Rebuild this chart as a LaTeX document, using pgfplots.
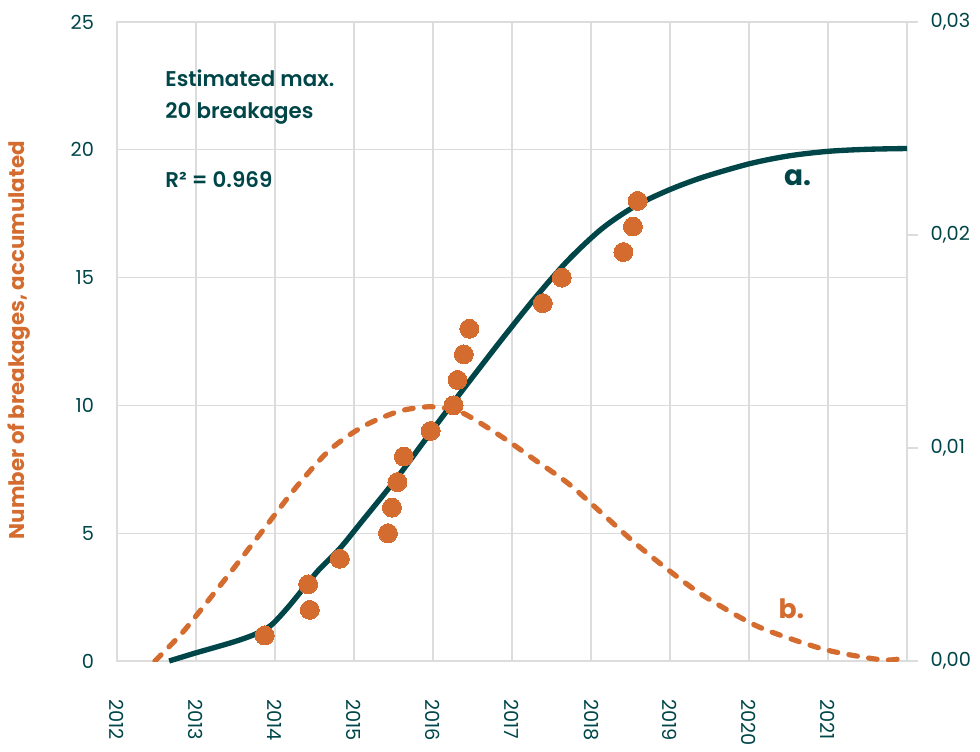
\documentclass[border=0pt]{standalone}
\usepackage{pgfplots}
\pgfplotsset{compat=1.18}
\usepackage{fontspec}
\IfFontExistsTF{Poppins SemiBold}
  {\setmainfont{Poppins}[BoldFont={Poppins SemiBold}]}
  {\setmainfont{Poppins}}
\IfFontExistsTF{Poppins Bold}
  {\newfontface\heavyface{Poppins Bold}}
  {\newcommand\heavyface{\bfseries}}

\definecolor{deepteal}{RGB}{0,70,73}
\definecolor{burnt}{RGB}{212,108,48}
\definecolor{gridgray}{RGB}{220,220,220}

% accumulated breakages (observed)
\pgfplotstableread{
x        y
2013.87  1
2014.44  2
2014.42  3
2014.82  4
2015.43  5
2015.48  6
2015.55  7
2015.63  8
2015.97  9
2016.26  10
2016.31  11
2016.39  12
2016.46  13
2017.39  14
2017.63  15
2018.41  16
2018.53  17
2018.59  18
}\observed

% a. fitted cumulative curve
\pgfplotstableread{
x        y
2012.66  0
2013.00  0.32
2013.47  0.74
2013.75  1.05
2013.95  1.40
2014.15  2.05
2014.35  2.80
2014.55  3.55
2014.82  4.40
2015.11  5.50
2015.54  7.15
2015.96  8.90
2016.38  10.62
2016.87  12.58
2017.29  14.20
2017.71  15.68
2018.14  16.92
2018.56  17.80
2018.98  18.42
2019.41  18.92
2020.00  19.45
2020.50  19.76
2021.00  19.94
2021.50  20.02
2022.00  20.05
}\fitted

% b. yearly density (right axis)
\pgfplotstableread{
x        y
2012.48  0
2012.82  0.00130
2013.14  0.00277
2013.43  0.00413
2013.85  0.00615
2014.27  0.00817
2014.69  0.00990
2015.11  0.01100
2015.54  0.01169
2015.87  0.01192
2016.10  0.01190
2016.38  0.01164
2016.87  0.01053
2017.29  0.00944
2017.71  0.00834
2018.14  0.00693
2018.56  0.00553
2018.98  0.00427
2019.41  0.00310
2020.00  0.00182
2020.39  0.00122
2020.98  0.00052
2021.53  0.00013
2021.78  0.00005
2022.00  0.00015
}\density

\begin{document}
\begin{tikzpicture}
\pgfplotsset{
  common/.style={
    width=592.5pt, height=479.25pt, scale only axis,
    at={(0pt,0pt)}, anchor=south west,
    xmin=2012, xmax=2022,
    set layers,
    /pgf/number format/assume math mode=true,
    tick label style={font=\fontsize{14.5}{18}\selectfont, text=deepteal},
  },
}
% right axis with curve b
\begin{axis}[common,
  axis x line=none,
  axis y line*=right,
  y axis line style={draw=none},
  ymin=0, ymax=0.03,
  ytick={0,0.01,0.02,0.03},
  scaled y ticks=false,
  yticklabel={\pgfmathprintnumber[fixed,fixed zerofill,precision=2,use comma]{\tick}},
  tick align=outside,
  major tick length=8.25pt,
  tick style={gridgray, line width=0.9pt},
  yticklabel shift=6pt,
]
\addplot[burnt, line width=3.9pt, line cap=round, dash pattern=on 6.5pt off 8.5pt, smooth]
  table[x=x,y=y] {\density};
\end{axis}

% left axis with curve a and observations
\begin{axis}[common,
  ymin=0, ymax=25,
  xtick={2012,...,2021},
  ytick={0,5,...,25},
  xticklabel={\pgfmathprintnumber[1000 sep={}]{\tick}},
  grid=major,
  grid style={gridgray, line width=0.9pt},
  axis line style={gridgray, line width=0.9pt},
  major tick length=0pt,
  xticklabel style={rotate=-90, anchor=west},
  xticklabel shift=25pt,
  yticklabel shift=13.75pt,
  clip=false,
]
\addplot[deepteal, line width=4pt, smooth] table[x=x,y=y] {\fitted};
\addplot[only marks, mark=*, mark size=7.1pt, mark options={fill=burnt, draw=burnt, line width=0pt}]
  table[x=x,y=y] {\observed};

\node[anchor=base west, inner sep=0pt, text=deepteal, font=\fontsize{16}{20}\selectfont\bfseries]
  at (axis cs:2012.61,22.46) {Estimated max.};
\node[anchor=base west, inner sep=0pt, text=deepteal, font=\fontsize{16}{20}\selectfont\bfseries]
  at (axis cs:2012.61,21.21) {20 breakages};
\node[anchor=base west, inner sep=0pt, text=deepteal, font=\fontsize{16}{20}\selectfont\bfseries]
  at (axis cs:2012.61,18.51) {R² = 0.969};
\node[anchor=base west, text=deepteal, font=\fontsize{21}{26}\selectfont\heavyface, inner sep=0pt]
  at (axis cs:2020.44,18.62) {a.};
\node[anchor=base west, text=burnt, font=\fontsize{20}{26}\selectfont\heavyface, inner sep=0pt]
  at (axis cs:2020.37,1.68) {b.};
\node[rotate=90, text=burnt, font=\fontsize{16}{20}\selectfont\heavyface]
  at (axis description cs:-0.124,0.502) {Number of breakages, accumulated};
\end{axis}
% page frame
\path (-87.75pt,-67.5pt) rectangle (647.25pt,495.75pt);
\end{tikzpicture}
\end{document}
